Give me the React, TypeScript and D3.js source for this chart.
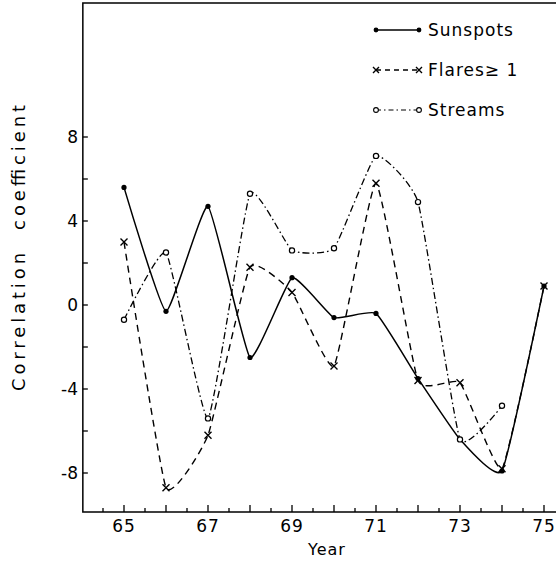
import React from "react";
import * as d3 from "d3";

const years = [65, 66, 67, 68, 69, 70, 71, 72, 73, 74, 75];
const sunspots = [5.6, -0.3, 4.7, -2.5, 1.3, -0.6, -0.4, -3.5, -6.4, -7.9, 0.9];
const flares = [3.0, -8.7, -6.2, 1.8, 0.6, -2.9, 5.8, -3.6, -3.7, -7.8, 0.9];
const streamYears = [65, 66, 67, 68, 69, 70, 71, 72, 73, 74];
const streams = [-0.7, 2.5, -5.4, 5.3, 2.6, 2.7, 7.1, 4.9, -6.4, -4.8];

const yTicks = [8, 4, 0, -4, -8];
const yMinor = [6, 2, -2, -6];
const xLabels = [65, 67, 69, 71, 73, 75];

const font = "DejaVu Sans, sans-serif";

const App = () => {
  const width = 556;
  const height = 565;

  const x = d3.scaleLinear().domain([65, 75]).range([124, 544]);
  const y = d3.scaleLinear().domain([0, 4]).range([305, 221]);

  const left = x(64.02);
  const right = 556;
  const bottom = y(-9.86);
  const top = 3;

  const line = d3
    .line<[number, number]>()
    .x((d) => x(d[0]))
    .y((d) => y(d[1]))
    .curve(d3.curveCardinal.tension(0.6));

  const sunPts = years.map((yr, i) => [yr, sunspots[i]] as [number, number]);
  const flarePts = years.map((yr, i) => [yr, flares[i]] as [number, number]);
  const streamPts = streamYears.map((yr, i) => [yr, streams[i]] as [number, number]);

  const halfYears = d3.range(64.5, 75.01, 0.5);

  const cross = (cx: number, cy: number, s: number, key: string) => (
    <path
      key={key}
      d={`M${cx - s},${cy - s}L${cx + s},${cy + s}M${cx - s},${cy + s}L${cx + s},${cy - s}`}
      stroke="#000"
      strokeWidth={1.4}
    />
  );

  const legendY = [30, 70, 110];
  const lx0 = 376;
  const lx1 = 419;

  return (
    <svg width={width} height={height} style={{ position: "absolute", left: 0, top: 0, background: "#fff" }}>
      {/* frame: top, left, bottom */}
      <path d={`M${right},${top}H${left}V${bottom}H${right}`} fill="none" stroke="#000" strokeWidth={1.5} />

      {/* y ticks */}
      {yTicks.concat(yMinor).map((v) => (
        <line key={"yt" + v} x1={left} x2={left + 5} y1={y(v)} y2={y(v)} stroke="#000" strokeWidth={1.3} />
      ))}
      {yTicks.map((v) => (
        <text key={"yl" + v} x={78} y={y(v)} dy="0.36em" textAnchor="end" fontFamily={font} fontSize={17}>
          {v < 0 ? "-" + Math.abs(v) : String(v)}
        </text>
      ))}

      {/* x ticks */}
      {halfYears.map((v) => {
        const major = Math.abs(v - Math.round(v)) < 0.01;
        return (
          <line
            key={"xt" + v}
            x1={x(v)}
            x2={x(v)}
            y1={bottom}
            y2={bottom - (major ? 7 : 4)}
            stroke="#000"
            strokeWidth={1.3}
          />
        );
      })}
      {xLabels.map((v) => (
        <text key={"xl" + v} x={x(v)} y={532} textAnchor="middle" fontFamily={font} fontSize={17} letterSpacing={1}>
          {v}
        </text>
      ))}

      <text x={327} y={555} textAnchor="middle" fontFamily={font} fontSize={16} letterSpacing={1}>
        Year
      </text>
      <text
        transform={`translate(25,248) rotate(-90)`}
        textAnchor="middle"
        fontFamily={font}
        fontSize={18}
        textLength={286}
        lengthAdjust="spacing"
        style={{ whiteSpace: "pre" }}
      >
        {"Correlation  coefficient"}
      </text>

      {/* series */}
      <path d={line(sunPts) || ""} fill="none" stroke="#000" strokeWidth={1.5} />
      <path d={line(flarePts) || ""} fill="none" stroke="#000" strokeWidth={1.4} strokeDasharray="7,5" />
      <path d={line(streamPts) || ""} fill="none" stroke="#000" strokeWidth={1.3} strokeDasharray="7,3,1.5,3" />

      {sunPts.map((d, i) => (
        <circle key={"s" + i} cx={x(d[0])} cy={y(d[1])} r={2.6} fill="#000" />
      ))}
      {flarePts.map((d, i) => cross(x(d[0]), y(d[1]), 3.5, "f" + i))}
      {streamPts.map((d, i) => (
        <circle key={"o" + i} cx={x(d[0])} cy={y(d[1])} r={2.6} fill="#fff" stroke="#000" strokeWidth={1.2} />
      ))}

      {/* legend */}
      <line x1={lx0} x2={lx1} y1={legendY[0]} y2={legendY[0]} stroke="#000" strokeWidth={1.5} />
      <circle cx={lx0} cy={legendY[0]} r={2.4} fill="#000" />
      <circle cx={lx1} cy={legendY[0]} r={2.4} fill="#000" />
      <text x={428} y={legendY[0]} dy="0.36em" fontFamily={font} fontSize={17} letterSpacing={1}>
        Sunspots
      </text>

      <line x1={lx0} x2={lx1} y1={legendY[1]} y2={legendY[1]} stroke="#000" strokeWidth={1.3} strokeDasharray="5,4" />
      {cross(lx0, legendY[1], 3, "lf0")}
      {cross(lx1, legendY[1], 3, "lf1")}
      <text x={428} y={legendY[1]} dy="0.36em" fontFamily={font} fontSize={17} letterSpacing={1}>
        {"Flares\u2265 1"}
      </text>

      <line x1={lx0} x2={lx1} y1={legendY[2]} y2={legendY[2]} stroke="#000" strokeWidth={1.2} strokeDasharray="5,3,1.5,3" />
      <circle cx={lx0} cy={legendY[2]} r={2.4} fill="#fff" stroke="#000" strokeWidth={1.1} />
      <circle cx={lx1} cy={legendY[2]} r={2.4} fill="#fff" stroke="#000" strokeWidth={1.1} />
      <text x={428} y={legendY[2]} dy="0.36em" fontFamily={font} fontSize={17} letterSpacing={1}>
        Streams
      </text>
    </svg>
  );
};

export default App;
